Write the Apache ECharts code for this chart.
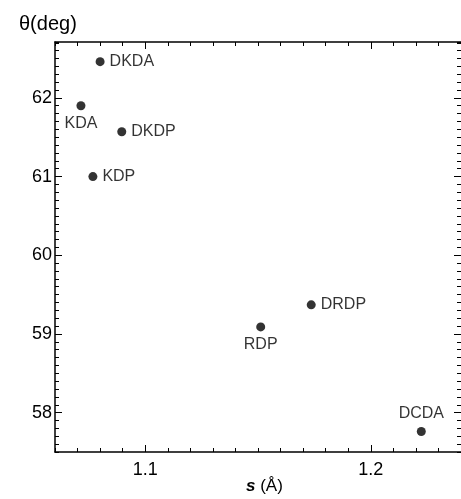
<!DOCTYPE html>
<html>
<head>
<meta charset="utf-8">
<script src="https://cdn.jsdelivr.net/npm/echarts@6/dist/echarts.min.js"></script>
<style>
  html, body { margin: 0; padding: 0; background: #fff; }
  #chart { width: 461px; height: 499px; }
</style>
</head>
<body>
<div id="chart"></div>
<script>
// crystals, s (Å) vs theta (deg)
const names = ['DKDA', 'KDA', 'DKDP', 'KDP', 'RDP', 'DRDP', 'DCDA']
const sVals = [1.080, 1.0715, 1.0896, 1.0768, 1.1512, 1.1736, 1.2224]
const thetaVals = [62.46, 61.90, 61.57, 61.00, 59.09, 59.37, 57.76]
const labelPos = ['right', 'bottom', 'right', 'right', 'bottom', 'right', 'top']

const xMajor = [1.1, 1.2]
const yMajor = [58, 59, 60, 61, 62]
const xMinorStep = 0.01
const yMinorStep = 0.1

const font = 'Liberation Sans, Arial, sans-serif'

function ax(pos, min, max, extra) {
  return Object.assign({ type: 'value', position: pos, min: min, max: max, splitLine: { show: false } }, extra)
}
function line(color) {
  return { show: true, onZero: false, lineStyle: { color: color, width: 1.5 } }
}
function major(ticks, labels, margin) {
  return {
    axisLine: line('#000'),
    axisTick: { show: true, inside: true, length: 7, customValues: ticks, lineStyle: { color: '#000' } },
    axisLabel: labels ? { show: true, customValues: ticks, color: '#000', fontSize: 18, fontFamily: font, margin: margin } : { show: false }
  }
}
function minor(step) {
  return {
    interval: step,
    axisLine: line('rgba(0,0,0,0)'),
    axisTick: { show: true, inside: true, length: 4, lineStyle: { color: '#000' } },
    axisLabel: { show: false }
  }
}

const chart = echarts.init(document.getElementById('chart'))
chart.setOption({
  animation: false,
  backgroundColor: '#fff',
  grid: { left: 55, right: -4, top: 42, bottom: 47 },
  title: [
    { text: 'θ(deg)', left: 14, top: 9, textStyle: { fontSize: 20, fontWeight: 'normal', fontFamily: font, color: '#000' } },
    {
      text: '{b|s} (Å)', left: 241, top: 473,
      textStyle: {
        fontSize: 17, fontWeight: 'normal', fontFamily: font, color: '#000',
        rich: { b: { fontSize: 17, fontWeight: 'bold', fontStyle: 'italic', fontFamily: font, color: '#000' } }
      }
    }
  ],
  // a side that is already taken flips to the other one, so axes come in pairs
  xAxis: [
    ax('bottom', 1.06, 1.24, major(xMajor, true, 9)),
    ax('top', 1.06, 1.24, major(xMajor, false)),
    ax('bottom', 1.06, 1.24, minor(xMinorStep)),
    ax('top', 1.06, 1.24, minor(xMinorStep))
  ],
  yAxis: [
    ax('left', 57.5, 62.71, major(yMajor, true, 3)),
    ax('right', 57.5, 62.71, Object.assign(major(yMajor, false), { axisLine: line('rgba(0,0,0,0)') })),
    ax('right', 57.5, 62.71, minor(yMinorStep)),
    ax('left', 57.5, 62.71, minor(yMinorStep))
  ],
  series: [{
    type: 'scatter',
    symbolSize: 9,
    itemStyle: { color: '#000' },
    data: names.map((n, i) => ({
      value: [sVals[i], thetaVals[i]],
      name: n,
      label: { position: labelPos[i] }
    })),
    label: {
      show: true, formatter: '{b}', color: '#000', fontSize: 16, fontFamily: font, distance: 5
    }
  }]
})
</script>
</body>
</html>
